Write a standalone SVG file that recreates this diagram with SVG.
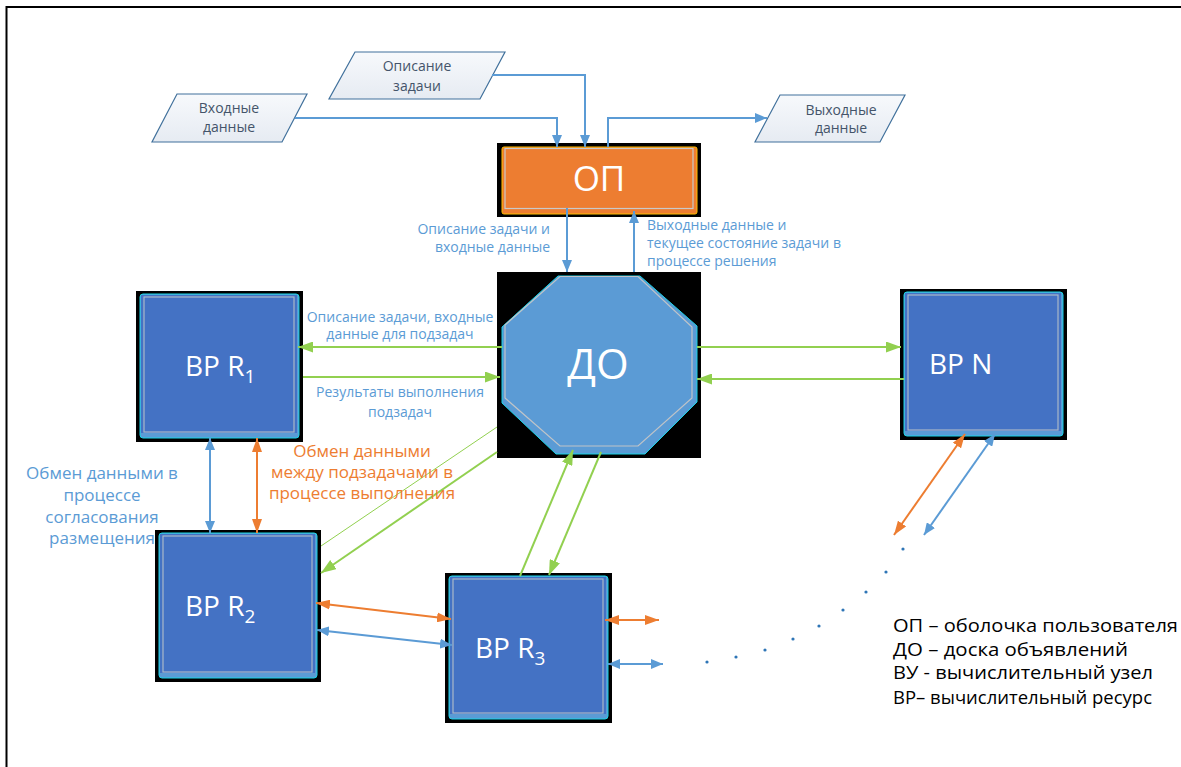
<svg xmlns="http://www.w3.org/2000/svg" width="1181" height="767" viewBox="0 0 1181 767">
  <style>
    .lbl { font-family: "Open Sans", "DejaVu Sans", sans-serif; font-size: 14px; fill: #5B9BD5; }
    .io { font-family: "Open Sans", "DejaVu Sans", sans-serif; font-size: 14px; fill: #44546A; text-anchor: middle; }
    .io-shape { fill: url(#ioFill); stroke: #41719C; stroke-width: 1.2; }
    .node-txt { font-family: "Open Sans", "DejaVu Sans", sans-serif; fill: #FFFFFF; }
    .legend { font-family: "Open Sans", "DejaVu Sans", sans-serif; font-size: 18px; fill: #000000; }
    .big-lbl { font-family: "Open Sans", "DejaVu Sans", sans-serif; font-size: 17px; text-anchor: middle; }
    .blue { stroke: #5B9BD5; stroke-width: 2; fill: none; }
    .green { stroke: #92D050; stroke-width: 2; fill: none; }
    .green-thin { stroke: #92D050; stroke-width: 1; fill: none; }
    .orange { stroke: #ED7D31; stroke-width: 2; fill: none; }
    .shadow { fill: #000000; }
    .rb-outer { fill: #5B9BD5; stroke: #19D3E6; stroke-width: 1; }
    .rb-inner { fill: #4472C4; }
    .rb-line { fill: none; stroke: #A9B8C8; stroke-width: 1.2; }
  </style>
  <defs>
    <linearGradient id="ioFill" x1="0" y1="0" x2="0" y2="1">
      <stop offset="0" stop-color="#F7F9FC"/>
      <stop offset="1" stop-color="#E6EBF2"/>
    </linearGradient>
    <marker id="aBlue" viewBox="0 0 12 10" refX="12" refY="5" markerWidth="12" markerHeight="10" markerUnits="userSpaceOnUse" orient="auto-start-reverse">
      <path d="M0,0 L12,5 L0,10 z" fill="#5B9BD5"/>
    </marker>
    <marker id="aGreen" viewBox="0 0 15 11" refX="15" refY="5.5" markerWidth="15" markerHeight="11" markerUnits="userSpaceOnUse" orient="auto-start-reverse">
      <path d="M0,0 L15,5.5 L0,11 z" fill="#92D050"/>
    </marker>
    <marker id="aOrange" viewBox="0 0 14 10" refX="14" refY="5" markerWidth="14" markerHeight="10" markerUnits="userSpaceOnUse" orient="auto-start-reverse">
      <path d="M0,0 L14,5 L0,10 z" fill="#ED7D31"/>
    </marker>
  </defs>

  <rect width="1181" height="767" fill="#FFFFFF"/>
  <!-- page frame -->
  <path d="M6.5,767 V7 H1181" fill="none" stroke="#000000" stroke-width="2"/>

  <!-- input / output data -->
  <g id="input-data">
    <polygon class="io-shape" points="177,94 307,94 282,142 152,142"/>
    <text class="io" x="229" y="113">Входные</text>
    <text class="io" x="229" y="132">данные</text>
  </g>
  <g id="task-description">
    <polygon class="io-shape" points="355,52 505,52 480,99 329,99"/>
    <text class="io" x="417" y="71">Описание</text>
    <text class="io" x="417" y="91">задачи</text>
  </g>
  <g id="output-data">
    <polygon class="io-shape" points="780,95 905,95 880,142 755,142"/>
    <text class="io" x="841" y="115">Выходные</text>
    <text class="io" x="841" y="133">данные</text>
  </g>

  <!-- user shell -->
  <g id="op">
    <rect class="shadow" x="497" y="143" width="204" height="74"/>
    <rect x="502" y="147" width="195" height="67" rx="2" fill="#ED7D31" stroke="#FFC000" stroke-width="1"/>
    <rect x="505" y="148.5" width="188" height="60" fill="none" stroke="#C9C9C9" stroke-width="1.2"/>
    <text class="node-txt" x="599" y="191" font-size="35" text-anchor="middle">ОП</text>
  </g>

  <!-- bulletin board -->
  <g id="do">
    <rect class="shadow" x="497" y="272" width="204" height="186"/>
    <polygon points="558,276 640,276 697,326 697,402 645,454 556,454 502,403 502,327" fill="#5B9BD5" stroke="#19D3E6" stroke-width="1"/>
    <polygon points="560,276.5 638,276.5 692,327 692,398 638,446 560,446 505,398 505,325" fill="#5B9BD5" stroke="#C0C4C8" stroke-width="1.2"/>
    <text class="node-txt" x="598" y="379" font-size="42" text-anchor="middle">ДО</text>
  </g>

  <!-- computing resources -->
  <g id="r1">
    <rect class="shadow" x="136" y="291" width="167" height="151"/>
    <rect class="rb-outer" x="140" y="294" width="159" height="144" rx="3"/>
    <rect class="rb-inner" x="141" y="295" width="156" height="138"/>
    <rect class="rb-line" x="144" y="297" width="150" height="135"/>
    <text class="node-txt" x="185" y="376" font-size="28">ВР R<tspan dy="7" font-size="19">1</tspan></text>
  </g>
  <g id="rn">
    <rect class="shadow" x="900" y="289" width="167" height="151"/>
    <rect class="rb-outer" x="904" y="292" width="159" height="144" rx="3"/>
    <rect class="rb-inner" x="905" y="293" width="156" height="138"/>
    <rect class="rb-line" x="908" y="295" width="150" height="135"/>
    <text class="node-txt" x="929" y="374" font-size="28">ВР N</text>
  </g>
  <g id="r2">
    <rect class="shadow" x="155" y="530" width="166" height="152"/>
    <rect class="rb-outer" x="159" y="533" width="158" height="145" rx="3"/>
    <rect class="rb-inner" x="160" y="534" width="155" height="139"/>
    <rect class="rb-line" x="163" y="536" width="149" height="136"/>
    <text class="node-txt" x="185" y="616" font-size="28">ВР R<tspan dy="7" font-size="19">2</tspan></text>
  </g>
  <g id="r3">
    <rect class="shadow" x="445" y="573" width="167" height="150"/>
    <rect class="rb-outer" x="449" y="576" width="159" height="143" rx="3"/>
    <rect class="rb-inner" x="450" y="577" width="156" height="137"/>
    <rect class="rb-line" x="453" y="579" width="150" height="134"/>
    <text class="node-txt" x="475" y="658" font-size="28">ВР R<tspan dy="7" font-size="19">3</tspan></text>
  </g>

  <!-- connectors -->
  <g id="connectors">
    <path class="blue" d="M295,118 H557 V147" marker-end="url(#aBlue)"/>
    <path class="blue" d="M492,75 H585 V147" marker-end="url(#aBlue)"/>
    <path class="blue" d="M608,147 V118 H767" marker-end="url(#aBlue)"/>
    <path class="blue" d="M567,208 V272" marker-end="url(#aBlue)"/>
    <path class="blue" d="M634,272 V211" marker-end="url(#aBlue)"/>

    <path class="green" d="M502,347 H298" marker-end="url(#aGreen)"/>
    <path class="green" d="M303,377 H500" marker-end="url(#aGreen)"/>
    <path class="green" d="M697,347 H901" marker-end="url(#aGreen)"/>
    <path class="green" d="M904,379 H697" marker-end="url(#aGreen)"/>
    <path class="green-thin" d="M321,546 L497,427"/>
    <path class="green" d="M497,452 L321,573" marker-end="url(#aGreen)"/>
    <path class="green" d="M520,576 L573,450" marker-end="url(#aGreen)"/>
    <path class="green" d="M601,452 L549,575" marker-end="url(#aGreen)"/>

    <path class="blue" d="M210,438 V533" marker-start="url(#aBlue)" marker-end="url(#aBlue)"/>
    <path class="orange" d="M257,438 V533" marker-start="url(#aOrange)" marker-end="url(#aOrange)"/>
    <path class="orange" d="M316,603 L451,619" marker-start="url(#aOrange)" marker-end="url(#aOrange)"/>
    <path class="blue" d="M317,630 L452,645" marker-start="url(#aBlue)" marker-end="url(#aBlue)"/>
    <path class="orange" d="M605,620 H659" marker-start="url(#aOrange)" marker-end="url(#aOrange)"/>
    <path class="blue" d="M608,664 H663" marker-start="url(#aBlue)" marker-end="url(#aBlue)"/>
    <path class="orange" d="M965,434 L894,535" marker-start="url(#aOrange)" marker-end="url(#aOrange)"/>
    <path class="blue" d="M995,434 L924,535" marker-start="url(#aBlue)" marker-end="url(#aBlue)"/>

    <!-- continuation dots towards further resources -->
    <g fill="#2E75B6">
      <circle cx="903" cy="549" r="1.6"/>
      <circle cx="886" cy="572" r="1.6"/>
      <circle cx="866" cy="592" r="1.6"/>
      <circle cx="843" cy="610" r="1.6"/>
      <circle cx="819" cy="626" r="1.6"/>
      <circle cx="793" cy="639" r="1.6"/>
      <circle cx="765" cy="650" r="1.6"/>
      <circle cx="736" cy="657" r="1.6"/>
      <circle cx="707" cy="662" r="1.6"/>
    </g>
  </g>

  <!-- connector labels -->
  <g id="labels">
    <text class="lbl" x="550" y="234" text-anchor="end">Описание задачи и</text>
    <text class="lbl" x="550" y="252" text-anchor="end">входные данные</text>
    <text class="lbl" x="647" y="230">Выходные данные и</text>
    <text class="lbl" x="647" y="248">текущее состояние задачи в</text>
    <text class="lbl" x="647" y="266">процессе решения</text>
    <text class="lbl" x="400" y="322" text-anchor="middle">Описание задачи, входные</text>
    <text class="lbl" x="400" y="339" text-anchor="middle">данные для подзадач</text>
    <text class="lbl" x="400" y="397" text-anchor="middle">Результаты выполнения</text>
    <text class="lbl" x="400" y="417" text-anchor="middle">подзадач</text>
    <g class="big-lbl" fill="#5B9BD5">
      <text x="102" y="479">Обмен данными в</text>
      <text x="102" y="501">процессе</text>
      <text x="102" y="523">согласования</text>
      <text x="102" y="544">размещения</text>
    </g>
    <g class="big-lbl" fill="#ED7D31">
      <text x="362" y="457">Обмен данными</text>
      <text x="362" y="478">между подзадачами в</text>
      <text x="362" y="499">процессе выполнения</text>
    </g>
  </g>

  <!-- legend -->
  <g id="legend">
    <text class="legend" x="893" y="632" textLength="285" lengthAdjust="spacingAndGlyphs">ОП – оболочка пользователя</text>
    <text class="legend" x="893" y="656" textLength="235" lengthAdjust="spacingAndGlyphs">ДО – доска объявлений</text>
    <text class="legend" x="893" y="679" textLength="260" lengthAdjust="spacingAndGlyphs">ВУ - вычислительный узел</text>
    <text class="legend" x="893" y="704" font-size="17" textLength="259" lengthAdjust="spacingAndGlyphs">ВР– вычислительный ресурс</text>
  </g>
</svg>
